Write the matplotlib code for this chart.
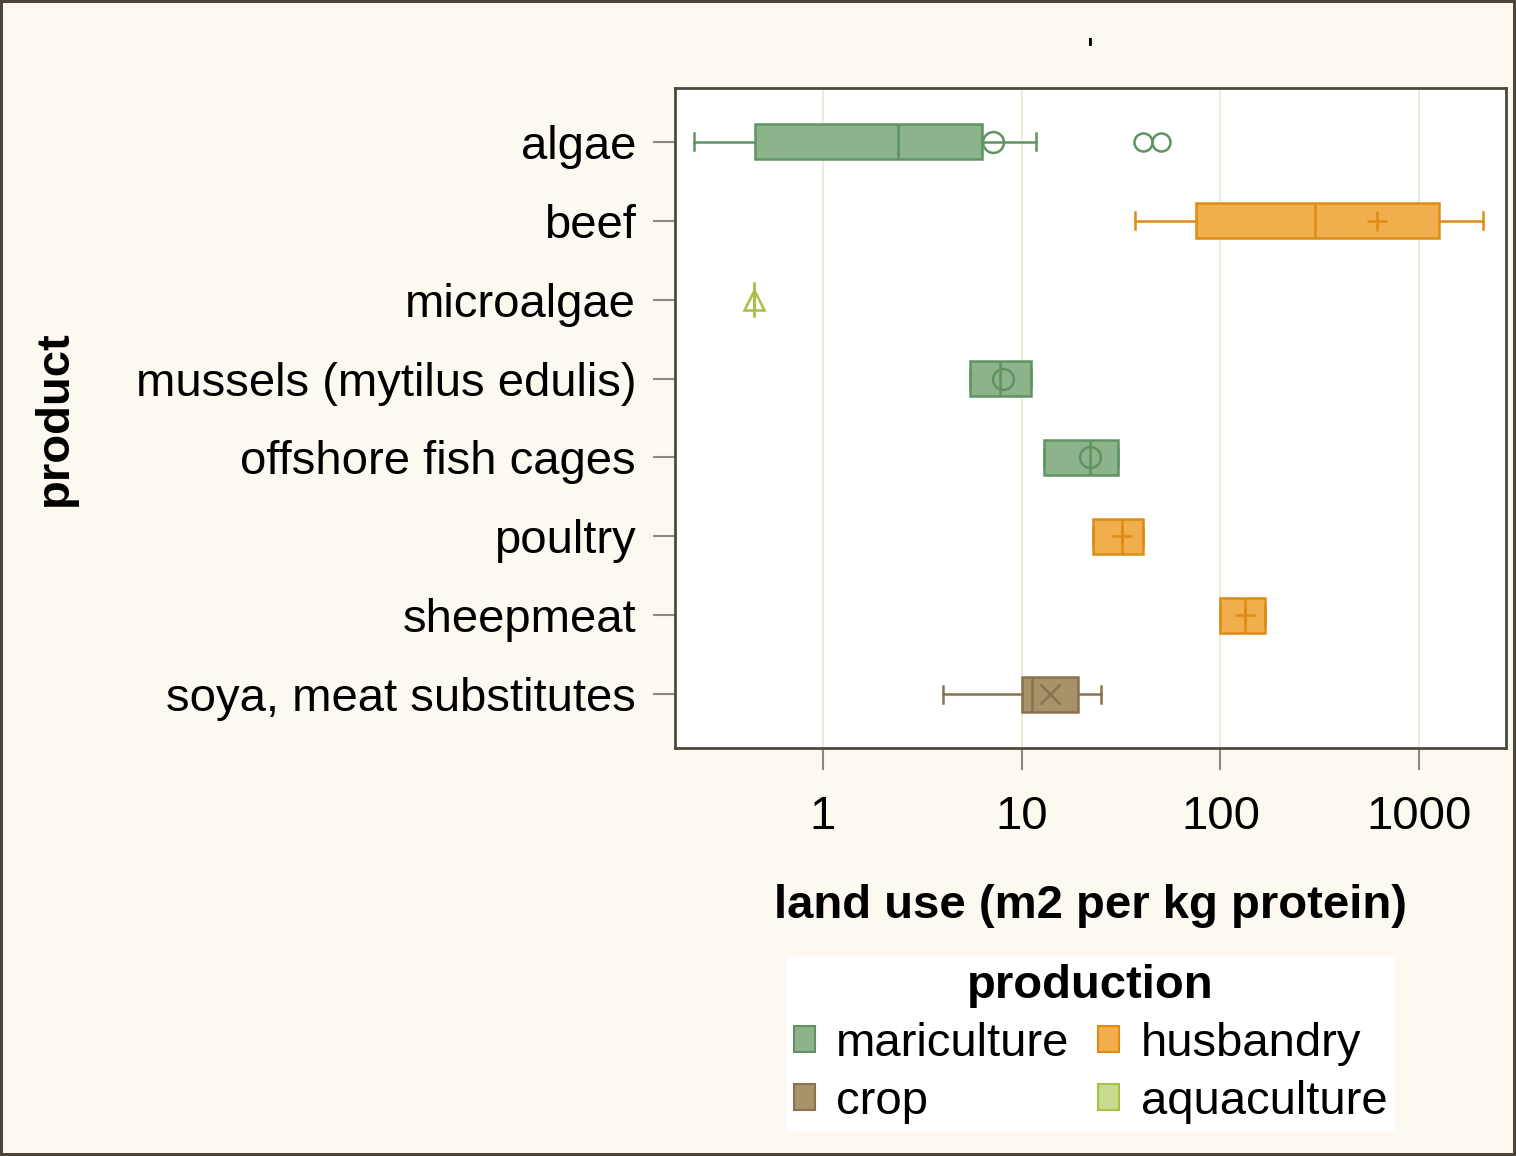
import numpy as np
import matplotlib.pyplot as plt
from matplotlib.patches import Patch

plt.rcParams['font.family'] = ['Liberation Sans', 'DejaVu Sans']

products = ['algae', 'beef', 'microalgae', 'mussels (mytilus edulis)',
            'offshore fish cages', 'poultry', 'sheepmeat', 'soya, meat substitutes']
production = ['mariculture', 'husbandry', 'aquaculture', 'mariculture',
              'mariculture', 'husbandry', 'husbandry', 'crop']
whislo = [0.224, 37.2, 0.45, 5.5, 12.9, 22.9, 99.5, 4.02]
q1 = [0.455, 75.3, 0.45, 5.5, 12.9, 22.9, 99.5, 10.0]
med = [2.38, 299, 0.45, 7.8, 22.1, 32.0, 133, 11.3]
q3 = [6.31, 1259, 0.45, 11.1, 30.5, 40.8, 167.6, 19.2]
whishi = [11.8, 2100, 0.45, 11.1, 30.5, 40.8, 167.6, 25.1]
means = [7.17, 614, 0.45, 8.05, 22.0, 32.0, 133, 13.9]
outliers = [[40.8, 50.2], [], [], [], [], [], [], []]

groups = ['mariculture', 'crop', 'husbandry', 'aquaculture']
fills = {'mariculture': '#8db38b', 'husbandry': '#f0ae4c',
         'crop': '#a8926a', 'aquaculture': '#c9dc8e'}
edges = {'mariculture': '#5f9462', 'husbandry': '#dd8c14',
         'crop': '#8a7250', 'aquaculture': '#a8c048'}
mean_marker = {'mariculture': 'o', 'husbandry': '+', 'crop': 'x', 'aquaculture': '^'}

bg = '#fdf9f0'
fs = 34
fig = plt.figure(figsize=(15.16, 11.56), dpi=100)
fig.patch.set_facecolor(bg)
fig.patch.set_edgecolor('#4a4538')
fig.patch.set_linewidth(3)
ax = fig.add_axes([0.4452, 0.3529, 0.5482, 0.5710])
ax.set_facecolor('white')

for i, p in enumerate(products):
    g = production[i]
    st = dict(label=p, whislo=whislo[i], q1=q1[i], med=med[i], q3=q3[i],
              whishi=whishi[i], mean=means[i], fliers=outliers[i])
    ec = edges[g]
    ax.bxp([st], positions=[i], widths=0.44, orientation='horizontal',
           patch_artist=True, showmeans=True, capwidths=0.22,
           boxprops=dict(facecolor=fills[g], edgecolor=ec, linewidth=1.8),
           medianprops=dict(color=ec, linewidth=1.8),
           whiskerprops=dict(color=ec, linewidth=1.8),
           capprops=dict(color=ec, linewidth=1.8),
           meanprops=dict(marker=mean_marker[g], markerfacecolor='none',
                          markeredgecolor=ec, markersize=15, markeredgewidth=1.8),
           flierprops=dict(marker='o', markerfacecolor='none',
                           markeredgecolor=ec, markersize=13, markeredgewidth=1.8),
           zorder=3)

ax.set_xscale('log')
ax.set_xlim(0.18, 2735)
ax.set_ylim(7.68, -0.68)
ax.set_xticks([1, 10, 100, 1000])
ax.set_xticklabels(['1', '10', '100', '1000'])
ax.xaxis.set_minor_locator(plt.NullLocator())
ax.set_yticks(range(len(products)))
ax.set_yticklabels(products)
ax.grid(axis='x', color='#ecebdc', linewidth=1.5, zorder=0)
ax.set_axisbelow(True)

ax.tick_params(axis='both', labelsize=fs, length=16, width=1.5, color='#8a8a80')
ax.tick_params(axis='y', pad=12)
ax.tick_params(axis='x', pad=18)
for s in ax.spines.values():
    s.set_color('#4a4a40')
    s.set_linewidth(2)

ax.set_xlabel('land use (m2 per kg protein)', fontsize=fs, fontweight='bold', labelpad=32)
ax.set_ylabel('product', fontsize=fs, fontweight='bold')
ax.yaxis.set_label_coords(-0.72, 0.5)
ax.text(0.5, 1.05, "'", transform=ax.transAxes, ha='center', va='center', fontsize=26)

handles = [Patch(facecolor=fills[g], edgecolor=edges[g], linewidth=1.5) for g in groups]
leg = ax.legend(handles, groups, title='production', ncol=2, loc='upper center',
                bbox_to_anchor=(0.5, -0.28), fontsize=fs, title_fontsize=fs,
                frameon=True, fancybox=False, framealpha=1, edgecolor='white',
                handlelength=0.45, handleheight=0.45, handletextpad=0.45,
                columnspacing=0.6, labelspacing=0.3, borderpad=0.15)
leg.get_title().set_fontweight('bold')

fig.savefig('out.png', dpi=100, facecolor=fig.get_facecolor(), edgecolor=fig.get_edgecolor())
